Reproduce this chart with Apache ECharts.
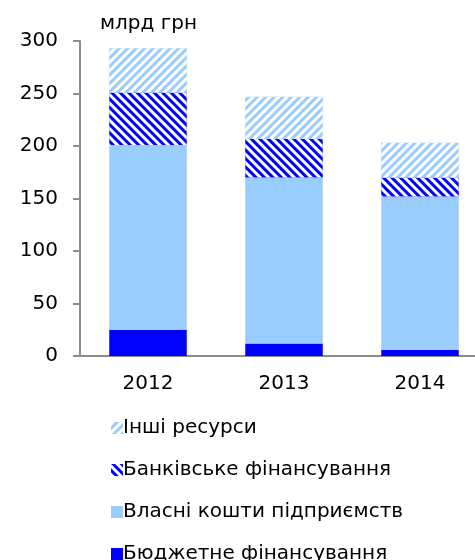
<!DOCTYPE html>
<html>
<head>
<meta charset="utf-8">
<script src="https://cdn.jsdelivr.net/npm/echarts@6/dist/echarts.min.js"></script>
<style>
  html, body { margin: 0; padding: 0; background: #fff; }
  #chart { width: 475px; height: 560px; }
</style>
</head>
<body>
<div id="chart"></div>
<script>
  var years = ['2012', '2013', '2014'];
  var budget = [25, 12, 6];
  var ownFunds = [176, 158, 146];
  var bankFin = [50, 37, 18];
  var otherRes = [42, 40, 33];

  var font = 'Verdana, "DejaVu Sans", sans-serif';
  var chart = echarts.init(document.getElementById('chart'));

  function stripes(rot) {
    return {
      symbol: 'rect',
      color: '#ffffff',
      dashArrayX: [1, 0],
      dashArrayY: [3, 3],
      symbolSize: 1,
      rotation: rot
    };
  }

  var option = {
    animation: false,
    title: {
      text: 'млрд грн',
      left: 95,
      top: 9,
      textStyle: { fontFamily: font, fontSize: 20, fontWeight: 'normal', color: '#000' }
    },
    legend: {
      orient: 'vertical',
      left: 106,
      top: 413,
      height: 200,
      itemGap: 22,
      itemWidth: 12,
      itemHeight: 12,
      icon: 'rect',
      textStyle: { fontFamily: font, fontSize: 20, color: '#000', padding: [0, 0, 0, -5] },
      data: ['Інші ресурси', 'Банківське фінансування', 'Власні кошти підприємств', 'Бюджетне фінансування']
    },
    grid: { left: 80, width: 408, top: 41, bottom: 204, outerBoundsMode: 'none' },
    xAxis: {
      type: 'category',
      data: years,
      axisLine: { lineStyle: { color: '#8c8c8c', width: 2 } },
      axisTick: { show: false },
      axisLabel: { fontFamily: font, fontSize: 20, color: '#000', margin: 18 }
    },
    yAxis: {
      type: 'value',
      min: 0,
      max: 300,
      interval: 50,
      splitLine: { show: false },
      axisLine: { show: true, lineStyle: { color: '#8c8c8c', width: 2 } },
      axisTick: { show: true, length: 7, lineStyle: { color: '#8c8c8c', width: 2 } },
      axisLabel: { fontFamily: font, fontSize: 20, color: '#000', margin: 22 }
    },
    series: [
      {
        name: 'Бюджетне фінансування',
        type: 'bar',
        stack: 'total',
        barWidth: '57%',
        data: budget,
        itemStyle: { color: '#0000ff' }
      },
      {
        name: 'Власні кошти підприємств',
        type: 'bar',
        stack: 'total',
        data: ownFunds,
        itemStyle: { color: '#99ccff' }
      },
      {
        name: 'Банківське фінансування',
        type: 'bar',
        stack: 'total',
        data: bankFin,
        itemStyle: { color: '#0000ff', decal: stripes(Math.PI / 4) }
      },
      {
        name: 'Інші ресурси',
        type: 'bar',
        stack: 'total',
        data: otherRes,
        itemStyle: { color: '#99ccff', decal: stripes(-Math.PI / 4) }
      }
    ]
  };
  chart.setOption(option);
</script>
</body>
</html>
